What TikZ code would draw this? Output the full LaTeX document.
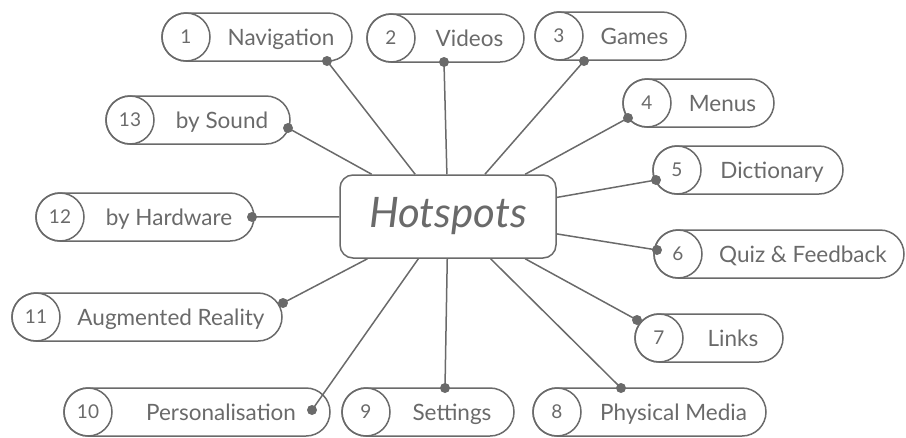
\documentclass[tikz,border=0pt]{standalone}
\usepackage{fontspec}
\setmainfont{Lato}
\usetikzlibrary{calc}
\definecolor{ink}{HTML}{6A6A6A}
\tikzset{
 pillbox/.style={draw=ink, line width=1.5pt, rounded corners=24pt, minimum height=48pt, inner sep=0pt, outer sep=0pt},
 numcirc/.style={draw=ink, line width=1.5pt, circle, minimum size=48pt, inner sep=0pt, outer sep=0pt, text=ink, font=\fontsize{19}{22}\selectfont},
 lbl/.style={text=ink, font=\fontsize{22.5}{26}\selectfont, inner sep=0pt, anchor=base, yshift=-8pt},
 conn/.style={draw=ink, line width=1.5pt},
 dotmark/.style={circle, fill=ink, minimum size=10pt, inner sep=0pt},
 hub/.style={draw=ink, line width=1.5pt, fill=white, rounded corners=13pt, minimum width=216pt, minimum height=83pt, inner sep=0pt, text=ink, font=\fontsize{42}{48}\selectfont\itshape}
}
\newcommand\mypill[6]{%
 \node[pillbox, minimum width=#6pt, anchor=west] (#1) at (#4,#5) {};
 \node[numcirc, anchor=west] (#1n) at (#4,#5) {#2};
 \node[lbl] (#1t) at ($(#1n.east)!0.5!(#1.east)$) {#3};
}
\begin{document}
\begin{tikzpicture}[x=1pt,y=-1pt]
\useasboundingbox (0,0) rectangle (906,437);
\node[hub] (hub) at (448,216.5) {Hotspots};
\mypill{nav}{1}{Navigation}{162}{37}{190}
\mypill{vid}{2}{Videos}{367}{38}{157}
\mypill{gam}{3}{Games}{535}{36}{151}
\mypill{men}{4}{Menus}{623}{103}{151}
\mypill{dic}{5}{Dictionary}{653}{170}{190}
\mypill{quiz}{6}{Quiz \& Feedback}{654}{254}{250}
\mypill{lnk}{7}{Links}{635}{338}{148}
\mypill{phy}{8}{Physical Media}{533}{412}{233}
\mypill{set}{9}{Settings}{342}{412}{172}
\mypill{per}{10}{Personalisation}{64}{412}{266}
\mypill{aug}{11}{Augmented Reality}{12}{317}{270}
\mypill{hw}{12}{by Hardware}{36}{217}{218}
\mypill{snd}{13}{by Sound}{106}{120}{184}
\foreach \n/\x/\y in {nav/327/61, vid/444/62, gam/584/61, men/628/118, dic/656/180, quiz/657/250, lnk/637/320, phy/621/388, set/445/388, per/312/410, aug/283/303, hw/252/217, snd/288/128}{
 \coordinate (\n d) at (\x,\y);
 \draw[conn] (\n d) -- (hub);
 \node[dotmark] at (\n d) {};
}
\end{tikzpicture}
\end{document}
